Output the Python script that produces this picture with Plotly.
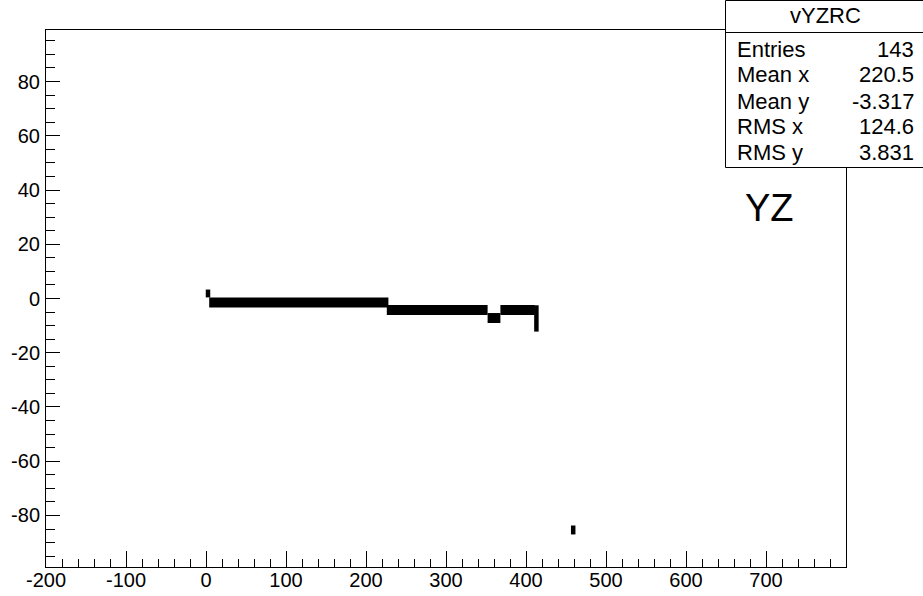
import plotly.graph_objects as go

# ---- data ----
band_x_start = [4, 226, 352, 368]
band_x_end = [228, 352, 368, 411]
band_y = [-1.5, -4.2, -7.2, -4.2]

blip_x = [2.5, 413, 459]
blip_y_top = [3.3, -2.5, -83.7]
blip_y_bottom = [0.4, -12.2, -87.0]

stats_title = "vYZRC"
stats_labels = ["Entries", "Mean x", "Mean y", "RMS x", "RMS y"]
stats_values = ["143", "220.5", "-3.317", "124.6", "3.831"]

x_range = [-200, 800]
y_range = [-99, 99]
x_ticks = [-200, -100, 0, 100, 200, 300, 400, 500, 600, 700]
y_ticks = [-80, -60, -40, -20, 0, 20, 40, 60, 80]

# ---- build traces ----
bx, by = [], []
for x0, x1, y in zip(band_x_start, band_x_end, band_y):
    bx += [x0, x1, None]
    by += [y, y, None]

vx, vy = [], []
for x, yt, yb in zip(blip_x, blip_y_top, blip_y_bottom):
    vx += [x, x, None]
    vy += [yt, yb, None]

fig = go.Figure()
fig.add_trace(go.Scatter(x=bx, y=by, mode="lines",
                         line=dict(color="black", width=10),
                         hoverinfo="skip", showlegend=False))
fig.add_trace(go.Scatter(x=vx, y=vy, mode="lines",
                         line=dict(color="black", width=4.5),
                         hoverinfo="skip", showlegend=False))

W, H = 923, 596
L, R, T, B = 46, 846, 30, 567

def px2x(px):
    return (px - L) / (R - L)

def py2y(py):
    return (B - py) / (B - T)

FONT = "Liberation Sans, Arial, Helvetica, sans-serif"

# stats box
fig.add_shape(type="rect", xref="paper", yref="paper",
              x0=px2x(725.5), x1=px2x(924), y0=py2y(167.5), y1=py2y(0.5),
              line=dict(color="black", width=1), fillcolor="white", layer="above")
fig.add_shape(type="line", xref="paper", yref="paper",
              x0=px2x(725.5), x1=px2x(924), y0=py2y(32.5), y1=py2y(32.5),
              line=dict(color="black", width=1), layer="above")

fig.add_annotation(xref="paper", yref="paper", x=px2x(825), y=py2y(16),
                   text=stats_title, showarrow=False, xanchor="center", yanchor="middle",
                   font=dict(family=FONT, size=22, color="black"))
row_y = [49, 75, 101, 127, 152]
for lab, val, ry in zip(stats_labels, stats_values, row_y):
    fig.add_annotation(xref="paper", yref="paper", x=px2x(735), y=py2y(ry),
                       text=lab, showarrow=False, xanchor="left", yanchor="middle",
                       font=dict(family=FONT, size=22, color="black"))
    fig.add_annotation(xref="paper", yref="paper", x=px2x(916), y=py2y(ry),
                       text=val, showarrow=False, xanchor="right", yanchor="middle",
                       font=dict(family=FONT, size=22, color="black"))

fig.add_annotation(xref="paper", yref="paper", x=px2x(769), y=py2y(208),
                   text="YZ", showarrow=False, xanchor="center", yanchor="middle",
                   font=dict(family=FONT, size=38, color="black"))

fig.update_layout(
    width=W, height=H,
    margin=dict(l=L, r=W - R, t=T, b=H - B, pad=0, autoexpand=False),
    paper_bgcolor="white", plot_bgcolor="white",
    showlegend=False,
)
fig.update_xaxes(range=x_range, tickmode="array", tickvals=x_ticks,
                 ticktext=[str(v) for v in x_ticks], automargin=False,
                 ticks="inside", ticklen=16, tickwidth=1, tickcolor="black",
                 minor=dict(dtick=20, tick0=0, ticks="inside", ticklen=8,
                            tickwidth=1, tickcolor="black"),
                 showline=True, linecolor="black", linewidth=1, mirror=True,
                 showgrid=False, zeroline=False,
                 tickfont=dict(family=FONT, size=20, color="black"),
                 ticklabelstandoff=-5)
fig.update_yaxes(range=y_range, tickmode="array", tickvals=y_ticks,
                 ticktext=[str(v) for v in y_ticks], automargin=False,
                 ticks="inside", ticklen=14, tickwidth=1, tickcolor="black",
                 minor=dict(dtick=5, tick0=0, ticks="inside", ticklen=9,
                            tickwidth=1, tickcolor="black"),
                 showline=True, linecolor="black", linewidth=1, mirror=True,
                 showgrid=False, zeroline=False,
                 tickfont=dict(family=FONT, size=20, color="black"),
                 ticklabelstandoff=1)

fig.write_html("out.html")
